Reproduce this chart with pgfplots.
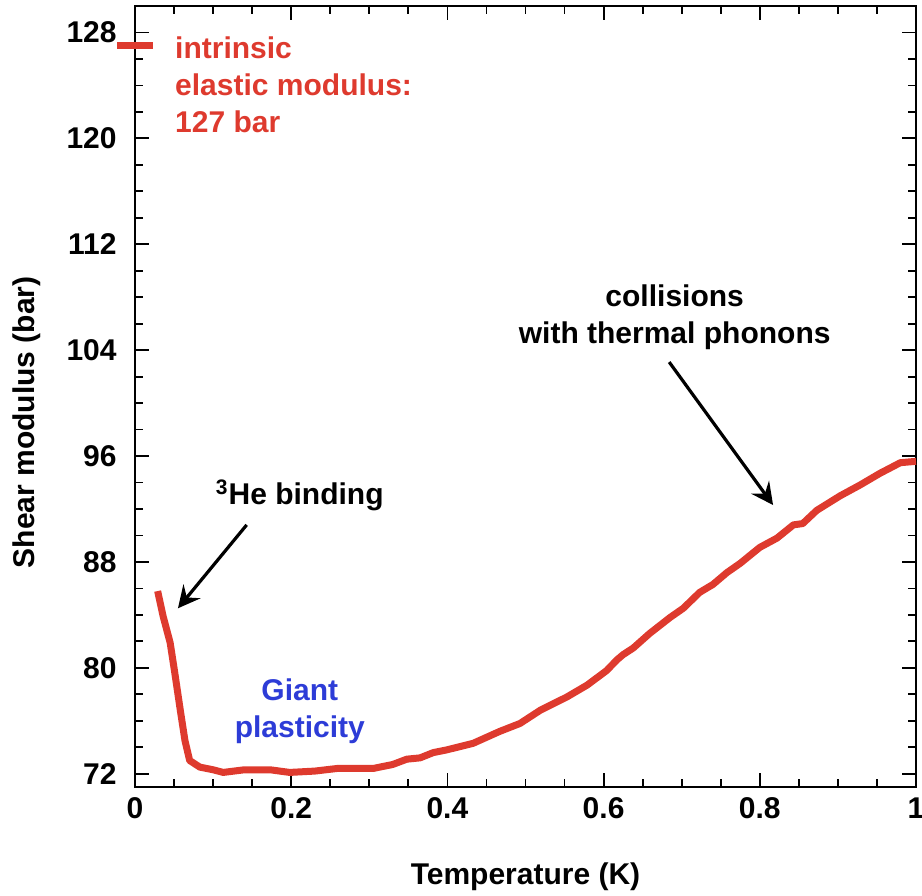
\documentclass[border=0pt]{standalone}
\usepackage{fontspec}
\setmainfont{Liberation Sans}
\usepackage{pgfplots}
\pgfplotsset{compat=1.18}
\usetikzlibrary{arrows.meta}
\definecolor{curvered}{RGB}{222,58,46}
\definecolor{noteblue}{RGB}{45,60,215}
\newcommand{\bigbf}{\bfseries\fontsize{15}{18.5}\selectfont}

\begin{document}
\begin{tikzpicture}
\begin{axis}[
  scale only axis,
  width=390.5pt, height=390.5pt,
  xmin=0, xmax=1, ymin=71, ymax=130,
  xtick={0,0.2,0.4,0.6,0.8,1},
  ytick={72,80,88,96,104,112,120,128},
  minor x tick num=3, minor y tick num=3,
  tick align=inside,
  major tick length=7pt, minor tick length=4pt,
  axis line style={line width=1pt},
  every tick/.style={black, line width=0.9pt},
  clip=false,
  /pgf/number format/assume math mode=true,
  tick label style={font=\bigbf},
  xticklabel style={inner sep=0pt, anchor=north, yshift=-5pt},
  yticklabel style={inner sep=0pt, anchor=east, xshift=-9pt},
  label style={font=\bigbf},
  xlabel={Temperature (K)},
  ylabel={Shear modulus (bar)},
  xlabel style={at={(axis description cs:0.5,0)}, anchor=center, yshift=-45pt},
  ylabel style={at={(axis description cs:0,0.467)}, anchor=center, yshift=54pt},
]
% measured shear modulus
\addplot[curvered, line width=3.5pt, line join=round] coordinates {
  (0.029,85.8) (0.036,83.9) (0.045,81.9) (0.051,79.6) (0.058,76.8)
  (0.064,74.5) (0.070,73.0) (0.083,72.5) (0.100,72.3) (0.113,72.1)
  (0.140,72.3) (0.173,72.3) (0.198,72.1) (0.230,72.2) (0.259,72.4)
  (0.305,72.4) (0.330,72.7) (0.348,73.1) (0.365,73.2) (0.382,73.6)
  (0.399,73.8) (0.433,74.3) (0.467,75.2) (0.493,75.8) (0.519,76.8)
  (0.553,77.8) (0.579,78.7) (0.604,79.8) (0.617,80.6) (0.625,81.0)
  (0.638,81.5) (0.659,82.6) (0.685,83.8) (0.702,84.5) (0.723,85.7)
  (0.740,86.3) (0.758,87.2) (0.775,87.9) (0.800,89.1) (0.822,89.8)
  (0.843,90.8) (0.855,90.9) (0.873,91.9) (0.903,93.0) (0.928,93.8)
  (0.954,94.7) (0.980,95.5) (1.000,95.6)
};
% intrinsic modulus marker
\addplot[curvered, line width=3.5pt, forget plot] coordinates {(-0.023,127) (0.023,127)};

\node[anchor=west, align=left, text=curvered, font=\bigbf, inner sep=0pt]
  at (axis cs:0.051,124.06) {intrinsic\\elastic modulus:\\127 bar};
\node[align=center, text=noteblue, font=\bigbf] at (axis cs:0.211,76.7) {Giant\\plasticity};
\node[font=\bigbf] at (axis cs:0.211,93.05) {\textsuperscript{3}He binding};
\node[align=center, font=\bigbf] at (axis cs:0.691,106.5) {collisions\\with thermal phonons};

\draw[line width=1.6pt, -{Stealth[length=11pt,width=11pt,inset=4pt]}]
  (axis cs:0.143,90.8) -- (axis cs:0.055,84.5);
\draw[line width=1.6pt, -{Stealth[length=11pt,width=11pt,inset=4pt]}]
  (axis cs:0.684,103.1) -- (axis cs:0.817,92.3);
\end{axis}
\pgfresetboundingbox
\path[use as bounding box] ([xshift=-67.5pt,yshift=-54.5pt]current axis.south west)
  rectangle ([xshift=3pt,yshift=3pt]current axis.north east);
\end{tikzpicture}
\end{document}
